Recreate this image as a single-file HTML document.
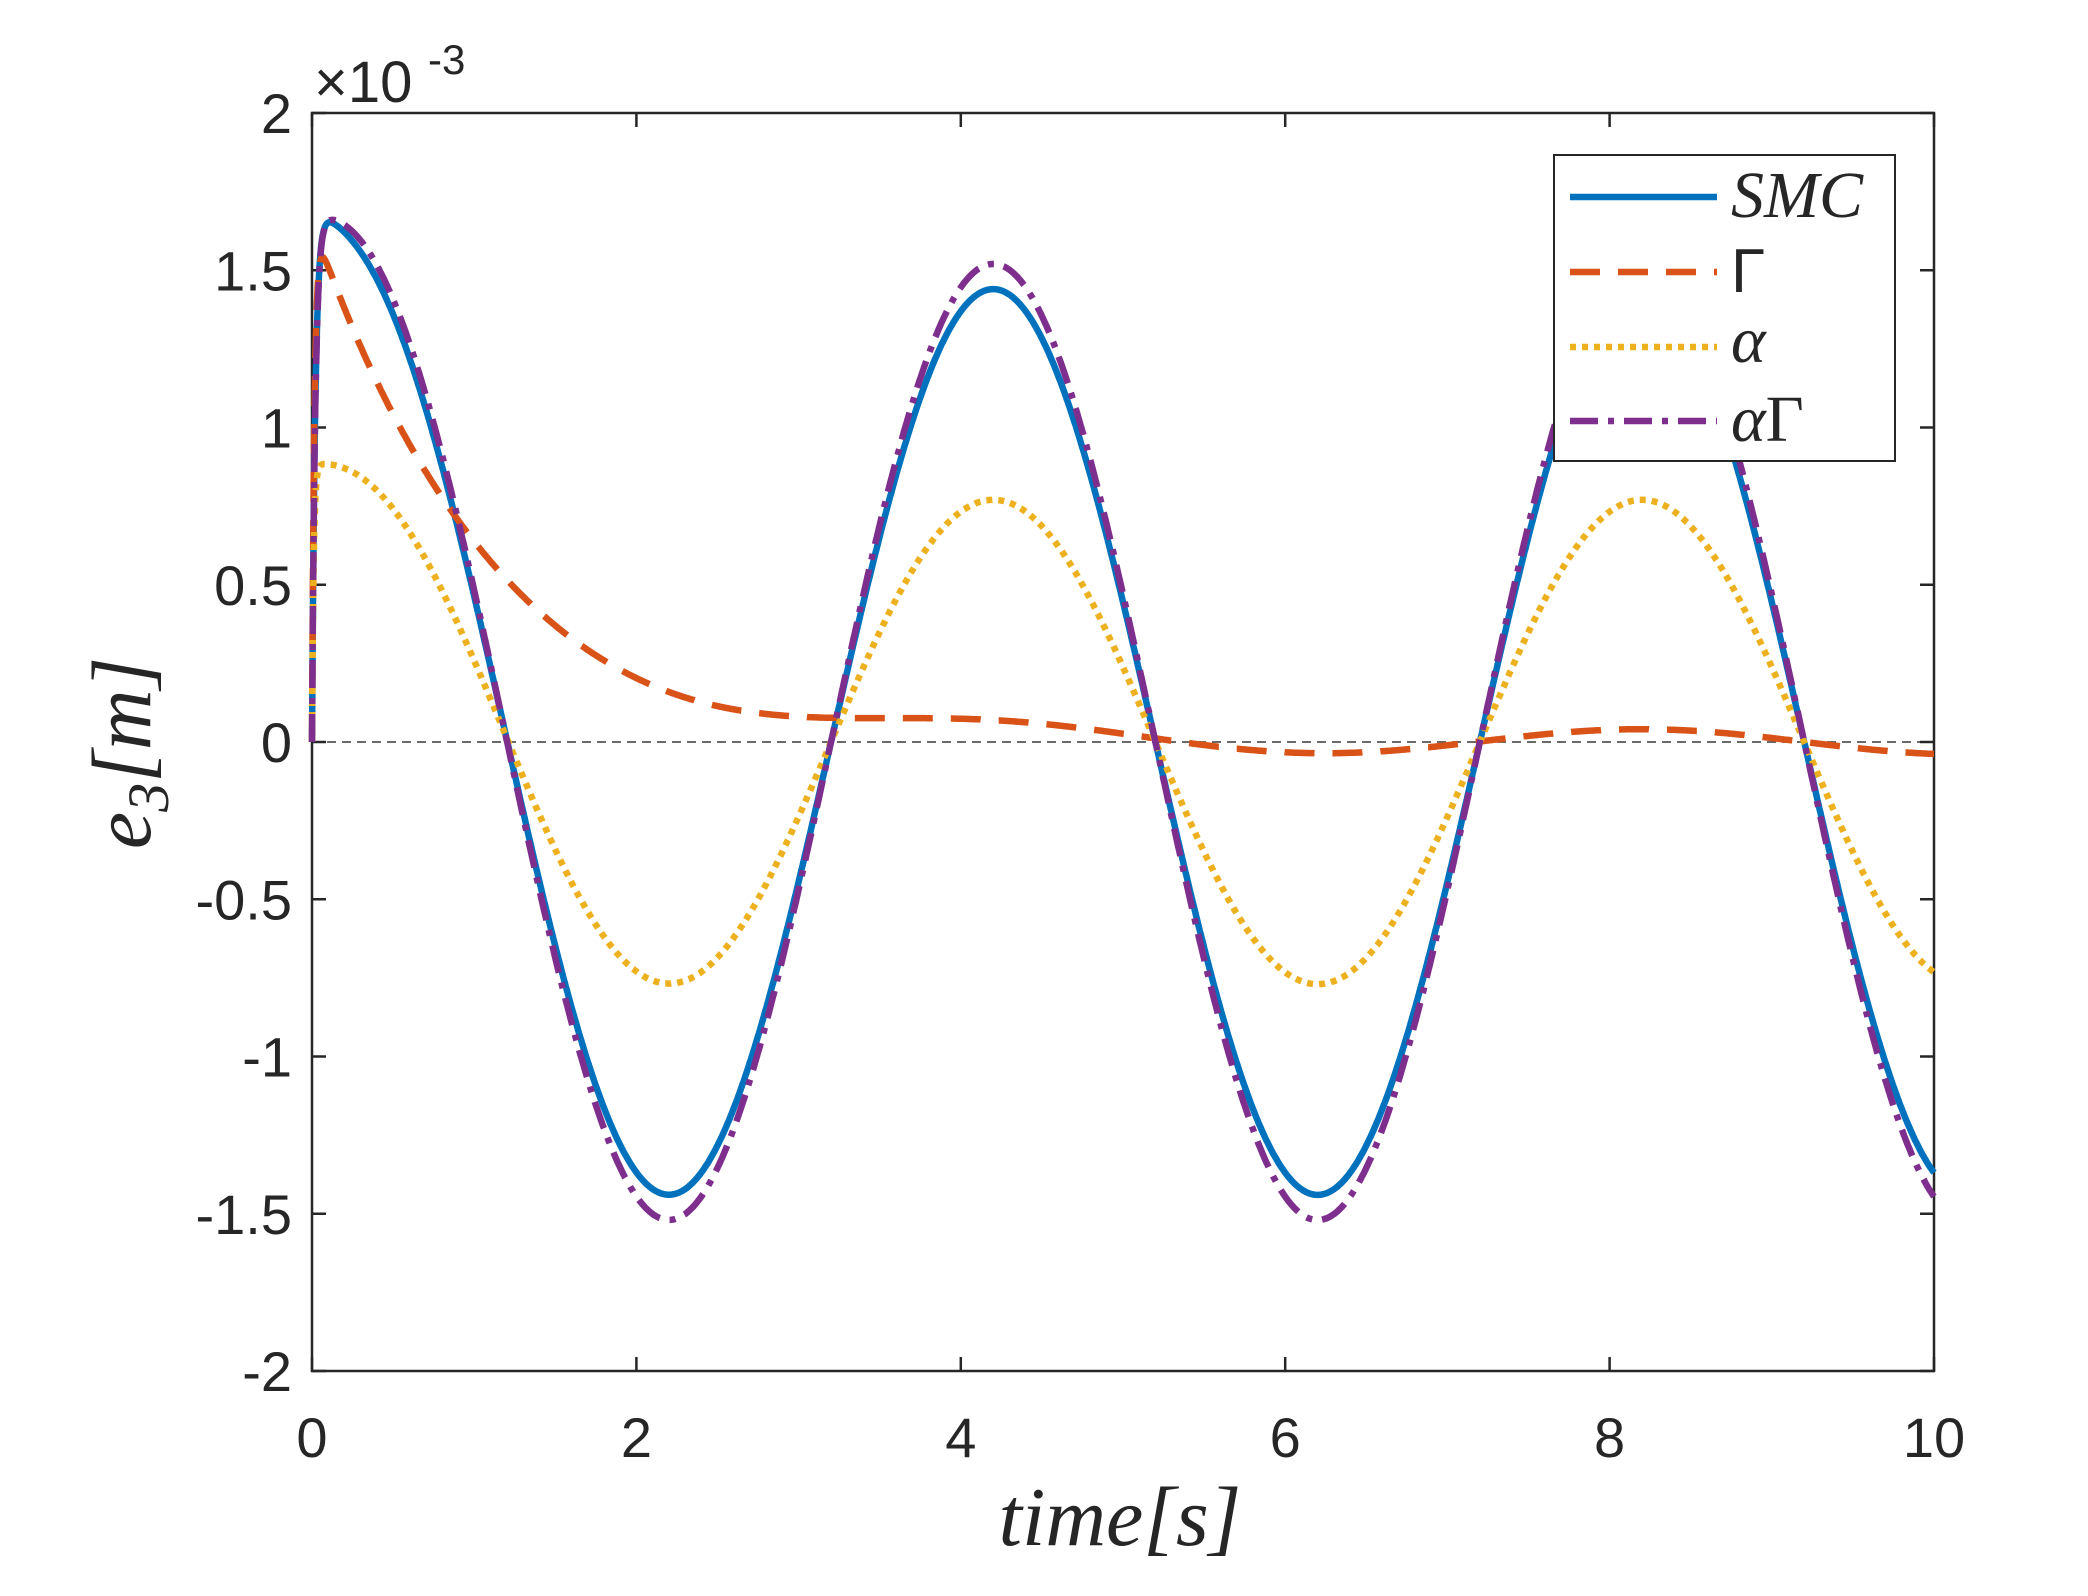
<!DOCTYPE html>
<html><head><meta charset="utf-8"><style>
html,body{margin:0;padding:0;background:#fff;}
svg{display:block;}
text{font-family:"Liberation Sans",sans-serif;fill:#262626;}
.serif{font-family:"Liberation Serif",serif;font-style:italic;}
</style></head><body>
<svg id="s" width="2088" height="1596" viewBox="0 0 2088 1596" xmlns="http://www.w3.org/2000/svg">
<rect x="0" y="0" width="2088" height="1596" fill="#fff"/>
<rect x="312" y="113" width="1622" height="1258" fill="#fff" stroke="#262626" stroke-width="2.5"/>
<line x1="312" y1="742" x2="1934" y2="742" stroke="#555" stroke-width="1.8" stroke-dasharray="9,6"/>
<g id="ticks" stroke="#262626" stroke-width="2.5"></g>
<g id="curves" fill="none" stroke-width="6.5" stroke-linejoin="round"></g>
<g id="labels" font-size="56"></g>
<text x="314" y="102" font-size="58">×10</text><text x="428" y="74" font-size="42">-3</text>
<text class="serif" x="1120" y="1545" font-size="84" text-anchor="middle">time[s]</text>
<text class="serif" transform="translate(150,753) rotate(-90)" font-size="84" text-anchor="middle">e<tspan font-size="58" dy="18">3</tspan><tspan dy="-18">[m]</tspan></text>
<rect x="1554" y="155" width="341" height="306" fill="#fff" stroke="#262626" stroke-width="2"/>
<line x1="1570" y1="197" x2="1717" y2="197" stroke="#0072BD" stroke-width="6.5"/>
<line x1="1570" y1="272" x2="1717" y2="272" stroke="#D95319" stroke-width="6.5" stroke-dasharray="30,18"/>
<line x1="1570" y1="347" x2="1717" y2="347" stroke="#EDB120" stroke-width="6.5" stroke-dasharray="6,6"/>
<line x1="1570" y1="421" x2="1717" y2="421" stroke="#7E2F8E" stroke-width="6.5" stroke-dasharray="28,10,6,10"/>
<text class="serif" x="1731" y="217" font-size="66">SMC</text>
<text x="1731" y="292" font-size="62" font-family="Liberation Serif">Γ</text>
<text class="serif" x="1731" y="362" font-size="66">α</text>
<text class="serif" x="1731" y="441" font-size="66">α<tspan font-style="normal">Γ</tspan></text>
<script>
var X=function(t){return 312+162.2*t;},Y=function(v){return 742-314.5*v;};
var tk=document.getElementById('ticks'),lb=document.getElementById('labels'),ns='http://www.w3.org/2000/svg';
function el(p,tag,a,txt){var e=document.createElementNS(ns,tag);for(var k in a)e.setAttribute(k,a[k]);if(txt!=null)e.textContent=txt;p.appendChild(e);return e;}
for(var t=0;t<=10;t+=2){var x=X(t);el(tk,'line',{x1:x,y1:1371,x2:x,y2:1357});el(tk,'line',{x1:x,y1:113,x2:x,y2:127});
 el(lb,'text',{x:x,y:1457,'text-anchor':'middle'},''+t);}
for(var v=-2;v<=2;v+=0.5){var y=Y(v);el(tk,'line',{x1:312,y1:y,x2:326,y2:y});el(tk,'line',{x1:1934,y1:y,x2:1920,y2:y});
 el(lb,'text',{x:292,y:y+20,'text-anchor':'end'},(v==0?'0':(''+v)));}
var cv=document.getElementById('curves');
function path(f,color,dash){var d='';for(var i=0;i<=2000;i++){var t=i*10/2000;d+=(i?'L':'M')+X(t).toFixed(1)+','+Y(f(t)).toFixed(1);}
 var a={d:d,stroke:color};if(dash)a['stroke-dasharray']=dash;el(cv,'path',a);}
var w=Math.PI/2;
function rise(t,tau){return 1-Math.exp(-t/tau);}
path(function(t){return rise(t,0.02)*(1.44*Math.sin(w*(t-3.2))+0.32*Math.exp(-t/0.35));},'#0072BD');
path(function(t){return rise(t,0.015)*(1.62*Math.exp(-t/1.05)-0.04*Math.sin(w*(t-5.2)));},'#D95319','30,18');
path(function(t){return rise(t,0.01)*(0.77*Math.sin(w*(t-3.2))+0.15*Math.exp(-t/0.5));},'#EDB120','6,6');
path(function(t){return rise(t,0.02)*(1.52*Math.sin(w*(t-3.2))+0.22*Math.exp(-t/0.35));},'#7E2F8E','28,10,6,10');
</script>
</svg>
</body></html>
